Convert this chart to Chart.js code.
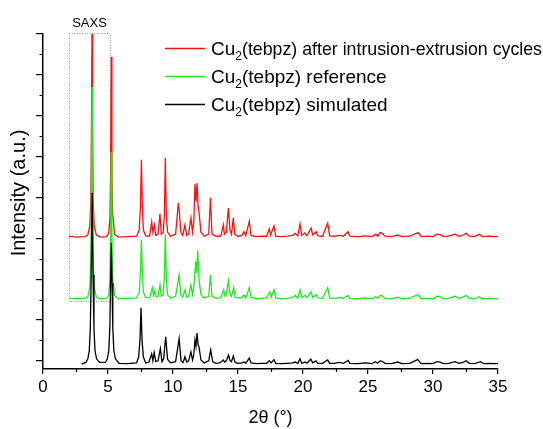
<!DOCTYPE html>
<html>
<head>
<meta charset="utf-8">
<script src="https://cdn.jsdelivr.net/npm/chart.js@4.4.1/dist/chart.umd.min.js"></script>
<style>
  html, body { margin: 0; padding: 0; background: #fff; }
  #wrap { width: 543px; height: 429px; }
</style>
</head>
<body>
<div id="wrap"><canvas id="xrd"></canvas></div>
<script>
// series names (the "2" after Cu is drawn as a subscript)
const seriesNames = [
  ["Cu", "2", "(tebpz) after intrusion-extrusion cycles"],
  ["Cu", "2", "(tebpz) reference"],
  ["Cu", "2", "(tebpz) simulated"],
];
const seriesColors = ["#ff1010", "#22e822", "#000000"];

// [2theta, offset intensity]
const redTrace = [
  [2.0,3.05],[2.6,3.03],[3.2,3.04],[3.45,3.08],[3.6,3.3],[3.68,3.9],[3.73,5.8],[3.77,8.1],[3.81,5.8],[3.86,3.9],[3.94,3.3],[4.1,3.08],
  [4.4,3.03],[4.9,3.04],[5.05,3.12],[5.15,3.5],[5.2,4.6],[5.25,7.44],[5.3,4.6],[5.35,3.6],[5.42,3.45],[5.5,3.1],[5.8,3.03],
  [6.5,3.04],[7.2,3.05],[7.4,3.2],[7.5,3.8],[7.57,4.92],[7.64,3.8],[7.72,3.2],[7.9,3.06],[8.2,3.05],[8.36,3.4],[8.45,3.15],[8.56,3.33],
  [8.68,3.07],[8.85,3.1],[9.0,3.6],[9.1,3.1],[9.25,3.15],[9.34,3.6],[9.41,4.97],[9.48,3.6],[9.58,3.15],[9.8,3.05],[10.2,3.1],[10.41,3.87],
  [10.5,3.6],[10.6,3.15],[10.75,3.07],[10.92,3.33],[11.05,3.07],[11.2,3.1],[11.38,3.5],[11.5,3.15],[11.6,3.4],[11.69,4.33],
  [11.77,3.9],[11.85,4.35],[11.93,3.8],[12.0,3.65],[12.15,3.15],[12.4,3.05],[12.75,3.1],[12.88,3.99],[13.0,3.1],[13.3,3.05],
  [13.6,3.05],[13.72,3.1],[13.87,3.33],[13.95,3.1],[14.1,3.15],[14.26,3.74],[14.38,3.2],[14.5,3.1],[14.64,3.5],[14.75,3.1],
  [15.0,3.05],[15.3,3.07],[15.46,3.16],[15.6,3.06],[15.87,3.42],[16.0,3.07],[16.4,3.04],[16.8,3.05],[17.2,3.05],[17.41,3.23],
  [17.5,3.08],[17.77,3.3],[17.9,3.05],[18.3,3.04],[18.8,3.05],[19.2,3.07],[19.4,3.12],[19.6,3.06],[19.77,3.35],[19.9,3.07],
  [20.15,3.13],[20.3,3.06],[20.62,3.25],[20.75,3.08],[21.0,3.16],[21.15,3.06],[21.5,3.05],[21.9,3.37],[22.05,3.06],[22.4,3.05],
  [22.8,3.07],[23.1,3.05],[23.46,3.16],[23.6,3.05],[24.2,3.04],[24.8,3.06],[25.3,3.04],[25.6,3.1],[25.75,3.05],[25.92,3.14],
  [26.1,3.12],[26.3,3.05],[26.8,3.04],[27.3,3.08],[27.6,3.04],[28.2,3.05],[28.85,3.14],[29.1,3.04],[29.6,3.05],[30.0,3.04],
  [30.3,3.1],[30.55,3.09],[30.8,3.04],[31.2,3.05],[31.7,3.1],[32.0,3.05],[32.3,3.08],[32.55,3.12],[32.8,3.05],[33.2,3.04],
  [33.55,3.1],[33.8,3.04],[34.3,3.05],[35.0,3.04],
];

const greenTrace = [
  [2.0,1.53],[2.6,1.52],[3.2,1.53],[3.45,1.56],[3.6,1.8],[3.68,2.4],[3.73,4.3],[3.77,6.7],[3.81,4.3],[3.86,2.4],[3.94,1.8],[4.1,1.56],
  [4.4,1.52],[4.9,1.53],[5.05,1.6],[5.15,2.0],[5.2,3.1],[5.25,5.11],[5.3,3.0],[5.36,1.98],[5.42,1.9],[5.5,1.6],[5.8,1.52],
  [6.5,1.53],[7.2,1.54],[7.4,1.68],[7.5,2.2],[7.57,2.96],[7.64,2.2],[7.72,1.68],[7.9,1.55],[8.2,1.54],[8.41,1.79],[8.5,1.6],[8.6,1.71],
  [8.7,1.56],[8.85,1.58],[9.0,1.86],[9.1,1.58],[9.25,1.62],[9.34,2.1],[9.41,3.1],[9.48,2.1],[9.58,1.62],[9.8,1.54],[10.2,1.58],[10.47,2.1],
  [10.6,1.62],[10.75,1.56],[10.92,1.74],[11.05,1.56],[11.2,1.58],[11.38,1.86],[11.5,1.62],[11.6,1.8],[11.75,2.43],[11.82,2.15],
  [11.9,2.7],[12.0,2.0],[12.15,1.62],[12.4,1.54],[12.75,1.58],[12.88,2.1],[13.0,1.58],[13.3,1.53],[13.6,1.54],[13.72,1.58],
  [13.9,1.74],[14.0,1.58],[14.1,1.62],[14.26,1.96],[14.38,1.65],[14.5,1.58],[14.67,1.79],[14.78,1.56],[15.0,1.54],[15.3,1.55],
  [15.46,1.61],[15.6,1.54],[15.87,1.79],[16.0,1.55],[16.4,1.52],[16.8,1.53],[17.2,1.54],[17.45,1.69],[17.55,1.56],[17.77,1.74],
  [17.9,1.54],[18.3,1.52],[18.8,1.53],[19.2,1.55],[19.4,1.6],[19.6,1.54],[19.77,1.74],[19.9,1.55],[20.15,1.6],[20.3,1.54],
  [20.62,1.69],[20.75,1.55],[21.0,1.62],[21.15,1.54],[21.5,1.53],[21.9,1.79],[22.05,1.54],[22.4,1.53],[22.8,1.55],[23.1,1.53],
  [23.46,1.6],[23.6,1.53],[24.2,1.52],[24.8,1.54],[25.3,1.52],[25.6,1.57],[25.75,1.53],[25.92,1.6],[26.1,1.59],[26.3,1.53],
  [26.8,1.52],[27.3,1.56],[27.6,1.52],[28.2,1.53],[28.85,1.62],[29.1,1.52],[29.6,1.53],[30.0,1.52],[30.3,1.58],[30.55,1.57],
  [30.8,1.52],[31.2,1.53],[31.7,1.58],[32.0,1.53],[32.3,1.56],[32.55,1.6],[32.8,1.53],[33.2,1.52],[33.55,1.57],[33.8,1.52],
  [34.3,1.53],[35.0,1.52],
];

const blackTrace = [
  [2.97,-0.08],[3.3,-0.04],[3.45,0.05],[3.56,0.25],[3.64,0.8],[3.71,2.1],[3.78,4.11],[3.85,2.1],[3.92,0.8],[4.0,0.25],[4.12,0.05],[4.35,-0.04],
  [4.8,-0.04],[4.95,0.05],[5.06,0.25],[5.14,0.8],[5.2,1.9],[5.25,2.89],[5.31,1.9],[5.37,0.8],[5.45,0.25],[5.57,0.05],[5.85,-0.06],[6.5,-0.07],
  [7.2,-0.05],[7.36,0.1],[7.46,0.5],[7.54,1.3],[7.62,0.5],[7.72,0.1],[7.9,-0.05],[8.15,-0.03],[8.36,0.17],[8.45,0.0],[8.55,0.2],[8.68,-0.02],
  [8.85,0.0],[9.03,0.3],[9.15,-0.02],[9.28,0.05],[9.44,0.59],[9.58,0.04],[9.8,-0.05],[10.2,-0.02],[10.47,0.54],[10.62,0.0],
  [10.78,-0.04],[10.92,0.1],[11.05,-0.03],[11.2,0.0],[11.38,0.22],[11.5,0.02],[11.6,0.15],[11.69,0.51],[11.77,0.35],[11.85,0.68],
  [11.93,0.4],[12.0,0.34],[12.15,0.02],[12.4,-0.05],[12.75,0.0],[12.9,0.27],[13.05,-0.02],[13.3,-0.06],[13.6,-0.05],[13.72,-0.02],
  [13.87,0.02],[13.97,-0.03],[14.1,0.0],[14.27,0.14],[14.4,0.0],[14.5,-0.02],[14.64,0.12],[14.78,-0.04],[15.0,-0.06],[15.3,-0.05],
  [15.46,-0.03],[15.6,-0.06],[15.87,0.07],[16.0,-0.05],[16.4,-0.07],[16.8,-0.06],[17.2,-0.06],[17.41,0.0],[17.55,-0.05],[17.77,0.03],
  [17.9,-0.06],[18.3,-0.07],[18.8,-0.06],[19.2,-0.05],[19.4,-0.03],[19.6,-0.06],[19.77,0.05],[19.9,-0.06],[20.15,-0.03],[20.3,-0.06],
  [20.6,0.04],[20.75,-0.05],[21.0,0.0],[21.15,-0.06],[21.5,-0.06],[21.9,0.02],[22.05,-0.06],[22.4,-0.06],[22.8,-0.04],[23.1,-0.06],
  [23.48,0.01],[23.6,-0.06],[24.2,-0.07],[24.8,-0.05],[25.3,-0.07],[25.55,-0.02],[25.75,-0.06],[25.92,0.0],[26.1,-0.01],[26.3,-0.06],
  [26.8,-0.07],[27.28,-0.03],[27.6,-0.07],[28.2,-0.06],[28.82,0.03],[29.1,-0.07],[29.6,-0.06],[30.0,-0.07],[30.28,-0.02],[30.55,-0.03],
  [30.8,-0.07],[31.2,-0.06],[31.69,-0.02],[32.0,-0.06],[32.3,-0.04],[32.54,0.0],[32.8,-0.06],[33.2,-0.07],[33.67,-0.02],[33.9,-0.07],
  [34.3,-0.06],[35.0,-0.07],
];

// axis ticks
const xMajor = [0, 5, 10, 15, 20, 25, 30, 35];
const xMinor = [2.5, 7.5, 12.5, 17.5, 22.5, 27.5, 32.5];
const yMajor = [0, 1, 2, 3, 4, 5, 6, 7, 8];
const yMinor = [0.5, 1.5, 2.5, 3.5, 4.5, 5.5, 6.5, 7.5];

// SAXS window: 2theta range and intensity range
const saxsX = [2.0, 5.15];
const saxsY = [1.47, 8.02];

const FONT = "Arial, 'Liberation Sans', Helvetica, sans-serif";

function toPoints(trace) {
  return trace.map(p => ({x: p[0], y: p[1]}));
}

const saxsBox = {
  id: "saxsBox",
  beforeDatasetsDraw(chart) {
    const {ctx, scales: {x, y}} = chart;
    const x0 = x.getPixelForValue(saxsX[0]), x1 = x.getPixelForValue(saxsX[1]);
    const y0 = y.getPixelForValue(saxsY[1]), y1 = y.getPixelForValue(saxsY[0]);
    ctx.save();
    ctx.strokeStyle = "#9a9a9a";
    ctx.lineWidth = 1;
    ctx.setLineDash([1, 1.5]);
    ctx.strokeRect(Math.round(x0) + 0.5, Math.round(y0) + 0.5, Math.round(x1 - x0), Math.round(y1 - y0));
    ctx.setLineDash([]);
    ctx.fillStyle = "#000";
    ctx.font = "13px " + FONT;
    ctx.textAlign = "center";
    ctx.textBaseline = "alphabetic";
    ctx.fillText("SAXS", (x0 + x1) / 2, y0 - 6);
    ctx.restore();
  }
};

const decor = {
  id: "decor",
  afterDraw(chart) {
    const {ctx, chartArea: a, scales: {x, y}} = chart;
    ctx.save();
    ctx.strokeStyle = "#000";
    ctx.lineWidth = 1.2;
    ctx.beginPath();
    xMinor.forEach(v => {
      const px = Math.round(x.getPixelForValue(v)) + 0.5;
      ctx.moveTo(px, a.bottom);
      ctx.lineTo(px, a.bottom + 3);
    });
    yMinor.forEach(v => {
      const py = Math.round(y.getPixelForValue(v)) + 0.5;
      ctx.moveTo(a.left, py);
      ctx.lineTo(a.left - 3.5, py);
    });
    ctx.stroke();

    // axis titles
    ctx.fillStyle = "#000";
    ctx.font = "18px " + FONT;
    ctx.textAlign = "center";
    ctx.textBaseline = "middle";
    ctx.fillText("2\u03b8 (\u00b0)", (a.left + a.right) / 2, 418);
    ctx.save();
    ctx.translate(19, 193);
    ctx.rotate(-Math.PI / 2);
    ctx.font = "20px " + FONT;
    ctx.fillText("Intensity (a.u.)", 0, 0);
    ctx.restore();

    // legend
    const rows = [48, 76, 104];
    seriesNames.forEach((parts, i) => {
      const ly = rows[i];
      ctx.strokeStyle = seriesColors[i];
      ctx.lineWidth = 1.3;
      ctx.beginPath();
      ctx.moveTo(165, ly + 0.5);
      ctx.lineTo(205, ly + 0.5);
      ctx.stroke();
      ctx.fillStyle = "#000";
      ctx.textAlign = "left";
      ctx.textBaseline = "alphabetic";
      let tx = 211;
      const base = ly + 7;
      ctx.font = "19px " + FONT;
      ctx.fillText(parts[0], tx, base);
      tx += ctx.measureText(parts[0]).width;
      ctx.font = "12px " + FONT;
      ctx.fillText(parts[1], tx, base + 5);
      tx += ctx.measureText(parts[1]).width;
      ctx.font = "19px " + FONT;
      const room = 542 - tx;
      ctx.fillText(parts[2], tx, base, Math.min(room, ctx.measureText(parts[2]).width));
    });
    ctx.restore();
  }
};

const traces = [redTrace, greenTrace, blackTrace];
const datasets = traces.map((t, i) => ({
  label: seriesNames[i].join(""),
  data: toPoints(t),
  borderColor: seriesColors[i],
  borderWidth: 1.3,
  pointRadius: 0,
  tension: 0,
  fill: false,
  order: 3 - i,
}));

new Chart(document.getElementById("xrd").getContext("2d"), {
  type: "line",
  data: {datasets},
  options: {
    responsive: true,
    maintainAspectRatio: false,
    animation: false,
    devicePixelRatio: 1,
    layout: {padding: {left: 0, right: 45, top: 34, bottom: 0}},
    plugins: {legend: {display: false}, tooltip: {enabled: false}},
    scales: {
      x: {
        type: "linear",
        min: 0,
        max: 35,
        afterBuildTicks: s => { s.ticks = xMajor.map(v => ({value: v})); },
        afterFit: s => { s.height = 60; },
        grid: {drawOnChartArea: false, drawTicks: true, tickLength: 5, color: "#000", lineWidth: 1.2},
        border: {color: "#000", width: 1.5},
        ticks: {color: "#000", font: {size: 17, family: FONT}, padding: 3, maxRotation: 0},
      },
      y: {
        type: "linear",
        min: -0.2,
        max: 8,
        afterBuildTicks: s => { s.ticks = yMajor.map(v => ({value: v})); },
        afterFit: s => { s.width = 43; },
        grid: {drawOnChartArea: false, drawTicks: true, tickLength: 7, color: "#000", lineWidth: 1.2},
        border: {color: "#000", width: 1.5},
        ticks: {display: false},
      },
    },
  },
  plugins: [saxsBox, decor],
});
</script>
</body>
</html>
